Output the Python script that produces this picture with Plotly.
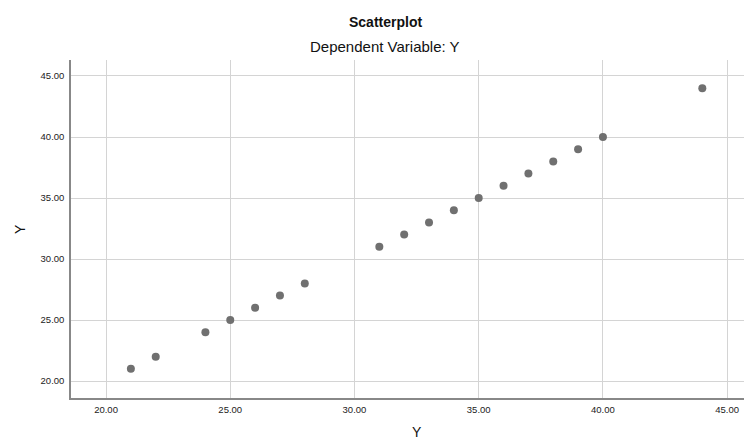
import plotly.graph_objects as go

x_vals = [21, 22, 24, 25, 26, 27, 28, 31, 32, 33, 34, 35, 36, 37, 38, 39, 40, 44]
y_vals = [21, 22, 24, 25, 26, 27, 28, 31, 32, 33, 34, 35, 36, 37, 38, 39, 40, 44]
tick_vals = [20, 25, 30, 35, 40, 45]
tick_text = ["20.00", "25.00", "30.00", "35.00", "40.00", "45.00"]

fig = go.Figure(go.Scatter(
    x=x_vals, y=y_vals, mode="markers",
    marker=dict(color="#707070", size=8, line=dict(width=0)),
    cliponaxis=False,
))

font = "Liberation Sans, Arial, sans-serif"
OFF = 8  # page body margin
W, H = 752 - OFF, 439 - OFF
L, T = 71 - OFF, 60 - OFF
R = 0
B = H - (398 - OFF)
fig.update_layout(
    width=W, height=H,
    margin=dict(l=L, r=R, t=T, b=B, autoexpand=False),
    paper_bgcolor="white", plot_bgcolor="white",
    showlegend=False,
    font=dict(family=font, size=9.5, color="#222"),
)
plot_w = W - L - R
plot_h = H - T - B
def px(xp):
    return (xp - OFF - L) / plot_w
def py(yp):
    return (H - B - (yp - OFF)) / plot_h

common = dict(xref="paper", yref="paper", showarrow=False,
              xanchor="center", yanchor="middle")
fig.layout.annotations = [
    dict(text="<b>Scatterplot</b>", x=px(385), y=py(22),
         font=dict(size=14, color="#111"), **common),
    dict(text="Dependent Variable: Y", x=px(385), y=py(47),
         font=dict(size=15, color="#111"), **common),
    dict(text="Y", x=px(417), y=py(432),
         font=dict(size=14, color="#111"), **common),
    dict(text="Y", x=px(20), y=py(229), textangle=-90,
         font=dict(size=14, color="#111"), **common),
]

fig.update_xaxes(range=[18.59, 46.0], tickvals=tick_vals, ticktext=tick_text,
                 showgrid=True, gridcolor="#d4d4d4", gridwidth=1,
                 showline=True, linecolor="#888", linewidth=1.5,
                 ticks="", zeroline=False, ticklabelstandoff=2, automargin=False)
fig.update_yaxes(range=[18.61, 46.31], tickvals=tick_vals, ticktext=tick_text,
                 showgrid=True, gridcolor="#d4d4d4", gridwidth=1,
                 showline=True, linecolor="#888", linewidth=1.5,
                 ticks="", zeroline=False, ticklabelstandoff=3, automargin=False)

fig.write_html("out.html")
